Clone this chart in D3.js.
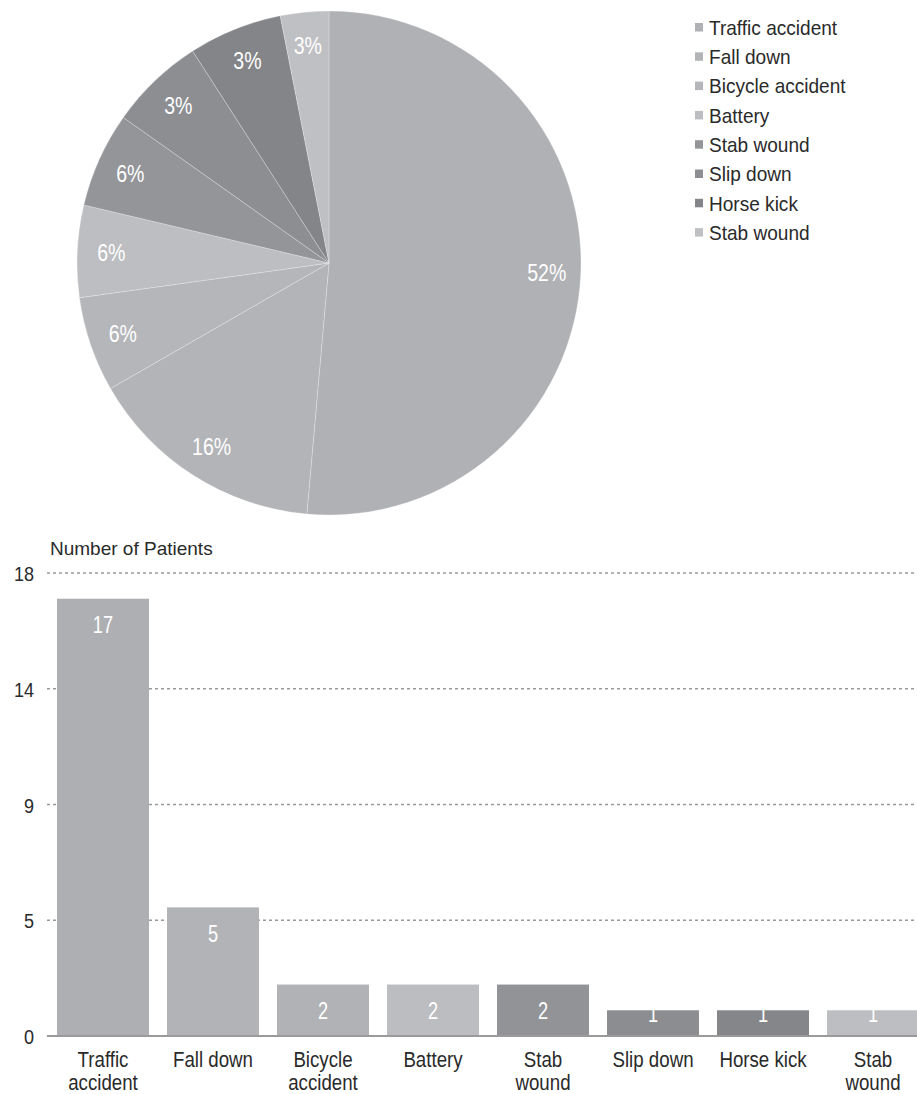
<!DOCTYPE html>
<html>
<head>
<meta charset="utf-8">
<style>
  body { margin: 0; background: #fff; }
  .chart svg text { font-family: "Liberation Sans", Arial, sans-serif; }
</style>
</head>
<body>
<div class="chart"></div>
<script src="https://d3js.org/d3.v7.min.js"></script>
<script>
  // categories + values
  const causes = ["Traffic accident", "Fall down", "Bicycle accident", "Battery",
                  "Stab wound", "Slip down", "Horse kick", "Stab wound"];
  const patients = [17, 5, 2, 2, 2, 1, 1, 1];
  const pieShares = [51.4, 15.3, 6.1, 5.9, 6.1, 6.1, 6.0, 3.1];
  const pieLabels = ["52%", "16%", "6%", "6%", "6%", "3%", "3%", "3%"];
  const pieColors = ["#b0b1b5", "#b3b4b8", "#b5b6b9", "#bdbec1", "#949599", "#8d8e92", "#848589", "#bfc0c3"];
  const barColors = ["#aeafb3", "#b2b3b7", "#b1b2b5", "#bcbdc0", "#929397", "#8c8d91", "#85868a", "#bdbec1"];
  const barTickLines = [["Traffic", "accident"], ["Fall down"], ["Bicycle", "accident"], ["Battery"],
                        ["Stab", "wound"], ["Slip down"], ["Horse kick"], ["Stab", "wound"]];
  const yTickValues = [0, 4.5, 9, 13.5, 18];
  const yTickLabels = ["0", "5", "9", "14", "18"];

  const W = 917, H = 1094;
  const svg = d3.select('.chart').append('svg')
                .attr('width', W)
                .attr('height', H);

  // ---------- pie ----------
  const cx = 329, cy = 263, R = 252;
  const pie = d3.pie().sort(null).value(d => d)(pieShares);
  const arc = d3.arc().innerRadius(0).outerRadius(R);
  const labelArc = d3.arc().innerRadius(218).outerRadius(218);

  const pieG = svg.append('g').attr('transform', `translate(${cx},${cy})`);
  pieG.selectAll('path')
      .data(pie)
      .join('path')
      .attr('d', arc)
      .attr('fill', (d, i) => pieColors[i])
      .attr('stroke', '#fff')
      .attr('stroke-opacity', 0.25)
      .attr('stroke-width', 1);

  pieG.selectAll('text')
      .data(pie)
      .join('text')
      .attr('transform', d => {
        const c = labelArc.centroid(d);
        return `translate(${c[0]},${c[1]}) scale(0.85,1)`;
      })
      .attr('text-anchor', 'middle')
      .attr('dy', '0.36em')
      .style('font-size', '23px')
      .style('fill', '#fff')
      .text((d, i) => pieLabels[i]);

  // legend
  const legend = svg.append('g').attr('transform', 'translate(695,27.5)');
  const row = legend.selectAll('g')
                    .data(causes)
                    .join('g')
                    .attr('transform', (d, i) => `translate(0,${i * 29.3})`);
  row.append('rect')
     .attr('x', 0).attr('y', -4.5)
     .attr('width', 8).attr('height', 8.5)
     .attr('fill', (d, i) => pieColors[i]);
  row.append('text')
     .attr('transform', 'translate(14,0) scale(0.93,1)')
     .attr('dy', '0.36em')
     .style('font-size', '20.5px')
     .style('fill', '#2a2a2a')
     .text(d => d);

  // ---------- bars ----------
  const x0 = 48, x1 = 928, yTop = 573, yBase = 1036;
  const xScale = d3.scaleBand()
                   .domain(d3.range(causes.length))
                   .range([x0, x1])
                   .paddingInner(0.164)
                   .paddingOuter(0.082);
  const yScale = d3.scaleLinear()
                   .domain([0, 18])
                   .range([yBase, yTop]);

  // dotted grid
  svg.append('g')
     .selectAll('line')
     .data(yTickValues.filter(v => v > 0))
     .join('line')
     .attr('x1', 47).attr('x2', W)
     .attr('y1', d => yScale(d)).attr('y2', d => yScale(d))
     .attr('stroke', '#999')
     .attr('stroke-width', 1.3)
     .attr('stroke-dasharray', '3,3');

  const yAxis = d3.axisLeft(yScale)
                  .tickValues(yTickValues)
                  .tickFormat((d, i) => yTickLabels[i])
                  .tickSize(0)
                  .tickPadding(0);
  const yAxisG = svg.append('g')
                    .attr('transform', 'translate(34,0)')
                    .call(yAxis);
  yAxisG.select('.domain').remove();
  yAxisG.selectAll('text')
        .attr('x', null).attr('dy', null)
        .attr('transform', 'scale(0.86,1)')
        .attr('dominant-baseline', 'central')
        .style('font-size', '21px')
        .style('fill', '#2a2a2a')
        .style('font-family', '"Liberation Sans", Arial, sans-serif');

  svg.append('text')
     .attr('x', 50).attr('y', 555)
     .style('font-size', '19px')
     .style('fill', '#2a2a2a')
     .text('Number of Patients');

  svg.selectAll('rect.bar')
     .data(patients)
     .join('rect')
     .attr('class', 'bar')
     .attr('x', (d, i) => xScale(i))
     .attr('y', d => yScale(d))
     .attr('width', xScale.bandwidth())
     .attr('height', d => yBase - yScale(d))
     .attr('fill', (d, i) => barColors[i]);

  // baseline
  svg.append('line')
     .attr('x1', 47).attr('x2', W)
     .attr('y1', yBase).attr('y2', yBase)
     .attr('stroke', '#9a9a9a')
     .attr('stroke-width', 2);

  // value labels, white, inside the bar top
  svg.selectAll('text.val')
     .data(patients)
     .join('text')
     .attr('class', 'val')
     .attr('transform', (d, i) => {
       const ly = Math.min(yScale(d) + 26, yBase - 23);
       return `translate(${xScale(i) + xScale.bandwidth() / 2},${ly}) scale(0.76,1)`;
     })
     .attr('text-anchor', 'middle')
     .attr('dy', '0.36em')
     .style('font-size', '24px')
     .style('fill', '#fff')
     .text(d => d);

  // category labels under the bars
  const catG = svg.selectAll('g.cat')
                  .data(barTickLines)
                  .join('g')
                  .attr('class', 'cat')
                  .attr('transform', (d, i) => `translate(${xScale(i) + xScale.bandwidth() / 2},0)`);
  catG.selectAll('text')
      .data(d => d)
      .join('text')
      .attr('transform', (d, j) => `translate(0,${1067 + j * 23}) scale(0.85,1)`)
      .attr('text-anchor', 'middle')
      .style('font-size', '22px')
      .style('fill', '#2a2a2a')
      .text(d => d);
</script>
</body>
</html>
